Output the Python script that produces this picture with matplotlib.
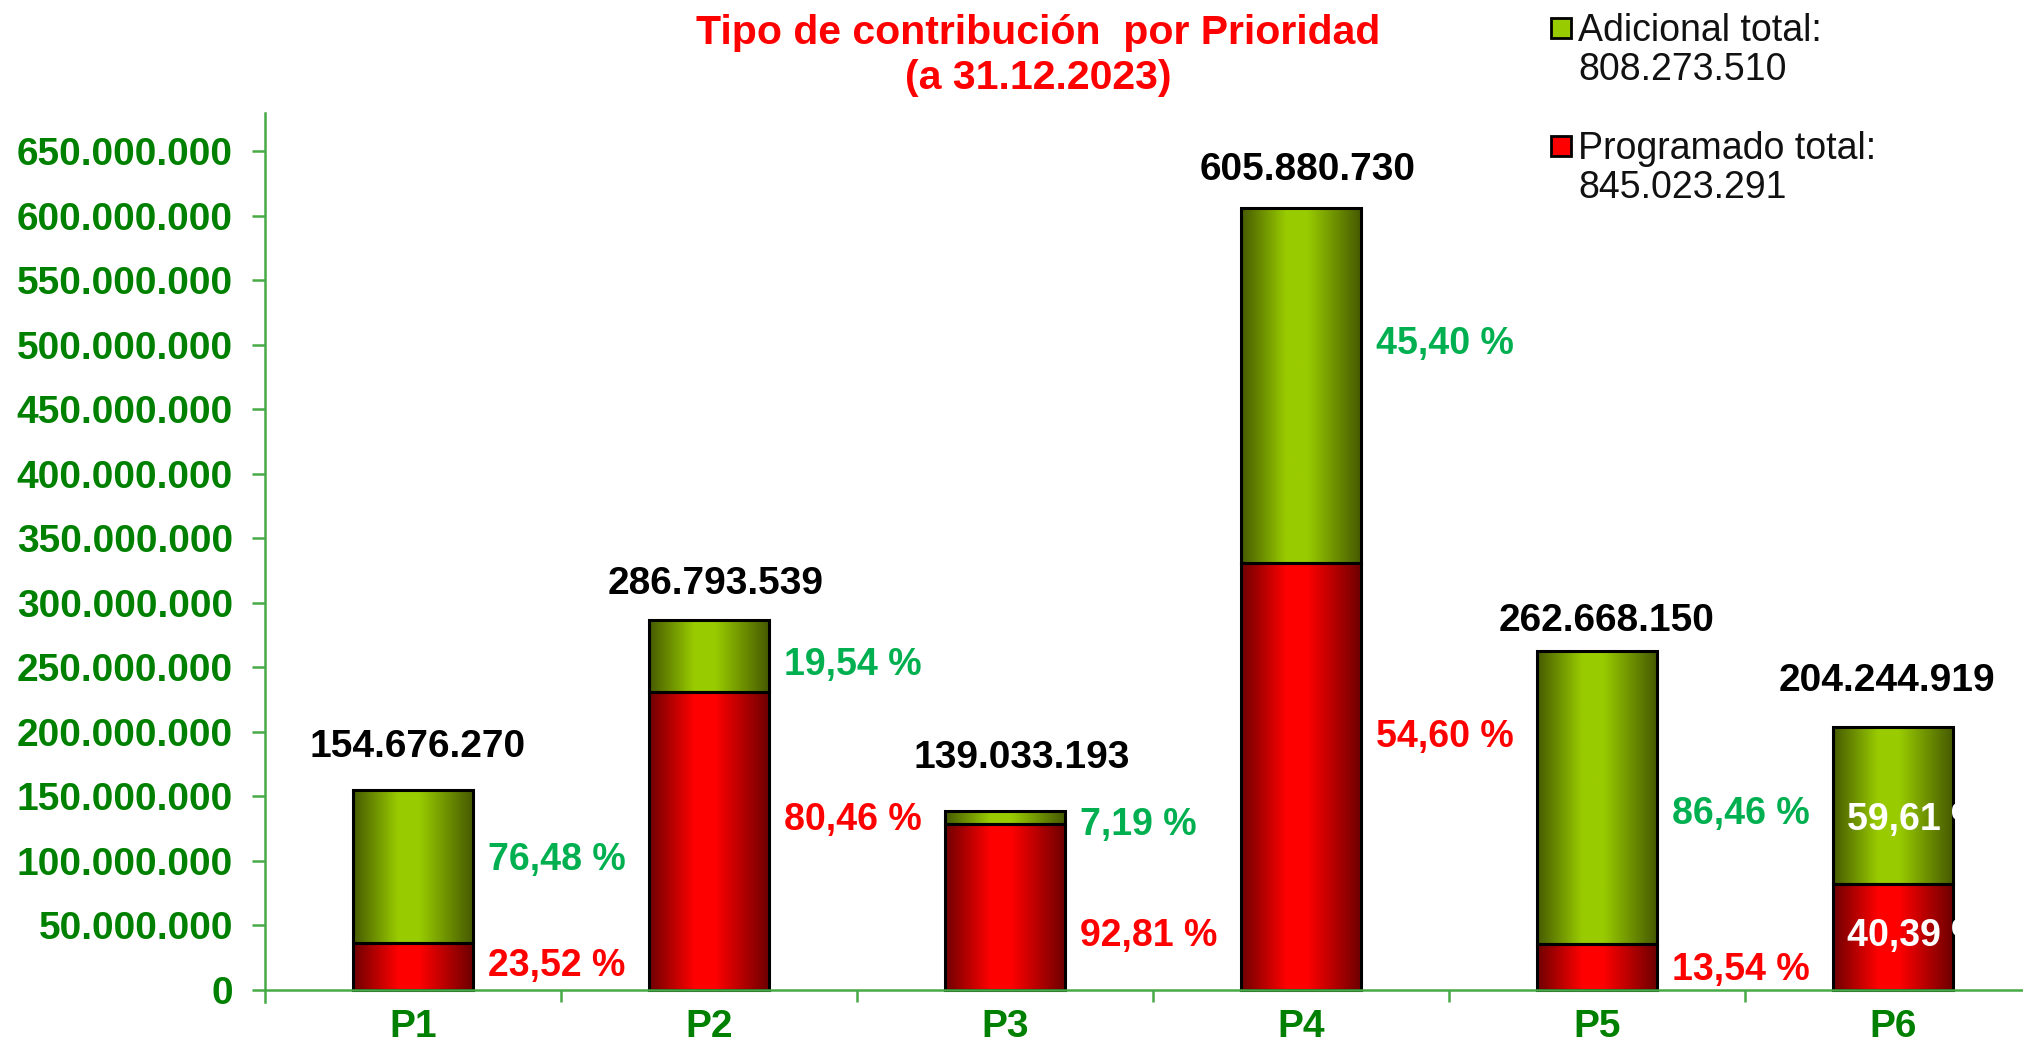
import numpy as np
import matplotlib
matplotlib.use('Agg')
from matplotlib import pyplot as plt
from matplotlib.colors import LinearSegmentedColormap
from matplotlib.patches import Rectangle
from matplotlib.ticker import FuncFormatter, FixedLocator

# data
categorias = ['P1', 'P2', 'P3', 'P4', 'P5', 'P6']
totales = [154676270, 286793539, 139033193, 605880730, 262668150, 204244919]
pct_programado = [23.52, 80.46, 92.81, 54.60, 13.54, 40.39]
pct_adicional = [76.48, 19.54, 7.19, 45.40, 86.46, 59.61]
total_adicional = 808273510
total_programado = 845023291

programado = np.array(totales) * np.array(pct_programado) / 100
adicional = np.array(totales) - programado

# label nudges (pixels), as placed by hand in the original
total_dx = [5, 7, 17, 7, 10, -6]
total_dy = [47, 40, 57, 42, 34, 49]
ad_dy = [10, -5, -4, 45, -13, -12]
pr_dy = [4, 25, -26, 43, 0, 4]

W, H = 2024, 1047
PX = 0.72  # px -> pt at dpi 100
FS = 28    # axis / totals
FSP = 27   # percentages

plt.rcParams['font.family'] = ['Liberation Sans', 'DejaVu Sans']

def miles(v):
    return f"{v:,.0f}".replace(',', '.')

def pct(p):
    return f"{p:.2f}".replace('.', ',') + ' %'

fig = plt.figure(figsize=(W / 100, H / 100), dpi=100)
ax = fig.add_axes([265 / W, 1 - 1002 / H, (W - 265) / W, (1002 - 113) / H])

verde_cm = LinearSegmentedColormap.from_list(
    'verde', [(0, '#465a00'), (0.38, '#99cc00'), (0.55, '#99cc00'), (1, '#465a00')])
rojo_cm = LinearSegmentedColormap.from_list(
    'rojo', [(0, '#6e0000'), (0.38, '#ff0000'), (0.55, '#ff0000'), (1, '#6e0000')])
grad = np.linspace(0, 1, 256).reshape(1, -1)

x = np.arange(len(categorias))
ancho = 0.405
b_pr = ax.bar(x, programado, ancho, facecolor='none', edgecolor='black', linewidth=2.2, zorder=3)
b_ad = ax.bar(x, adicional, ancho, bottom=programado, facecolor='none', edgecolor='black',
              linewidth=2.2, zorder=3)

for bars, cm in [(b_pr, rojo_cm), (b_ad, verde_cm)]:
    for r in bars:
        ax.imshow(grad, cmap=cm, aspect='auto', zorder=2, interpolation='bilinear',
                  extent=(r.get_x(), r.get_x() + r.get_width(), r.get_y(), r.get_y() + r.get_height()))

ax.set_xlim(-0.5, (W - 265) / 296 - 0.5)
ax.set_ylim(-9.3e6, 679.8e6)

# total labels above bars
for i, r in enumerate(b_ad):
    ax.annotate(miles(totales[i]), (r.get_x() + r.get_width() / 2, r.get_y() + r.get_height()),
                xytext=(total_dx[i] * PX, total_dy[i] * PX - 0.358 * FS), textcoords='offset points',
                ha='center', va='baseline', fontsize=FS, fontweight='bold', color='black')

# percentage labels
for i in range(len(categorias)):
    for bars, vals, dys, col in [(b_ad, pct_adicional, ad_dy, '#00b050'),
                                  (b_pr, pct_programado, pr_dy, '#ff0000')]:
        r = bars[i]
        yc = r.get_y() + r.get_height() / 2
        if i == len(categorias) - 1:
            xa, dx, c = r.get_x(), 14, 'white'
        else:
            xa, dx, c = r.get_x() + r.get_width(), 15, col
        ax.annotate(pct(vals[i]), (xa, yc), xytext=(dx * PX, dys[i] * PX - 0.358 * FSP),
                    textcoords='offset points', ha='left', va='baseline', fontsize=FSP,
                    fontweight='bold', color=c, zorder=5, annotation_clip=False)

eje = '#46aa46'
for s in ['top', 'right']:
    ax.spines[s].set_visible(False)
ax.spines['bottom'].set_position(('data', 0))
ax.spines['bottom'].set_color(eje)
ax.spines['left'].set_color(eje)
ax.spines['bottom'].set_linewidth(1.8)
ax.spines['left'].set_linewidth(1.8)
ax.spines['bottom'].set_zorder(4)

ax.set_yticks(np.arange(0, 650e6 + 1, 50e6))
ax.yaxis.set_major_formatter(FuncFormatter(lambda v, _: miles(v)))
ax.tick_params(axis='y', length=13 * PX, width=1.8, color=eje, pad=19 * PX,
               labelsize=FS, labelcolor='#008000')
for t in ax.get_yticklabels():
    t.set_fontweight('bold')

ax.set_xticks(x)
ax.set_xticklabels(categorias, fontsize=FS, fontweight='bold', color='#008000')
ax.xaxis.set_minor_locator(FixedLocator(x[:-1] + 0.5))
ax.tick_params(axis='x', which='major', length=0, pad=14)
ax.tick_params(axis='x', which='minor', length=12 * PX, width=1.8, color=eje)

# title
FST = 29.5
fig.text(1038 / W, 1 - 44 / H, 'Tipo de contribución  por Prioridad', ha='center', va='baseline',
         fontsize=FST, fontweight='bold', color='#ff0000')
fig.text(1038 / W, 1 - 89 / H, '(a 31.12.2023)', ha='center', va='baseline',
         fontsize=FST, fontweight='bold', color='#ff0000')

# legend
for yc, col, l1, l2 in [(28, '#99cc00', 'Adicional total:', miles(total_adicional)),
                        (146, '#ff0000', 'Programado total:', miles(total_programado))]:
    fig.patches.append(Rectangle((1551 / W, 1 - (yc + 10) / H), 20 / W, 20 / H, transform=fig.transFigure,
                                 facecolor=col, edgecolor='black', linewidth=2))
    fig.text(1578 / W, 1 - (yc + 13) / H, l1, ha='left', va='baseline', fontsize=27, color='#111111')
    fig.text(1578 / W, 1 - (yc + 39 + 13) / H, l2, ha='left', va='baseline', fontsize=27, color='#111111')

fig.savefig('out.png', dpi=100)
